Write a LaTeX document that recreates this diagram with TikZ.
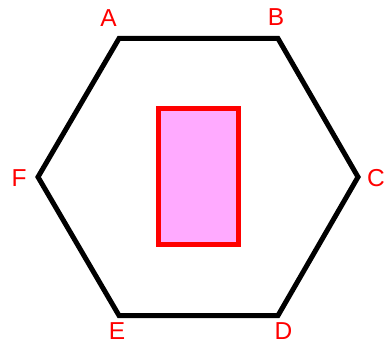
\documentclass[tikz,border=0pt]{standalone}
\usepackage{fontspec}
\setmainfont{Liberation Sans}
\begin{document}
\begin{tikzpicture}[x=1pt,y=-1pt,
  lbl/.style={text=red,font=\fontsize{24.5}{24.5}\selectfont,inner sep=0pt},
  hexline/.style={draw=black,line width=5pt,line join=miter},
  box/.style={draw=red,fill={rgb,255:red,255;green,170;blue,255},line width=5pt}]
\useasboundingbox (0,0) rectangle (387,347);
\coordinate (A) at (119,38.5);
\coordinate (B) at (278,38.5);
\coordinate (C) at (358,177);
\coordinate (D) at (278,315.5);
\coordinate (E) at (119,315.5);
\coordinate (F) at (38,177);
\draw[hexline] (A) -- (B) -- (C) -- (D) -- (E) -- (F) -- cycle;
\draw[box] (158,108.5) rectangle (238.5,244);
\node[lbl] (la) at (108.5,18) {A};
\node[lbl] (lb) at (276,17) {B};
\node[lbl] (lc) at (376,178) {C};
\node[lbl] (ld) at (283.5,331.5) {D};
\node[lbl] (le) at (117,331) {E};
\node[lbl] (lf) at (19,178) {F};
\end{tikzpicture}
\end{document}
